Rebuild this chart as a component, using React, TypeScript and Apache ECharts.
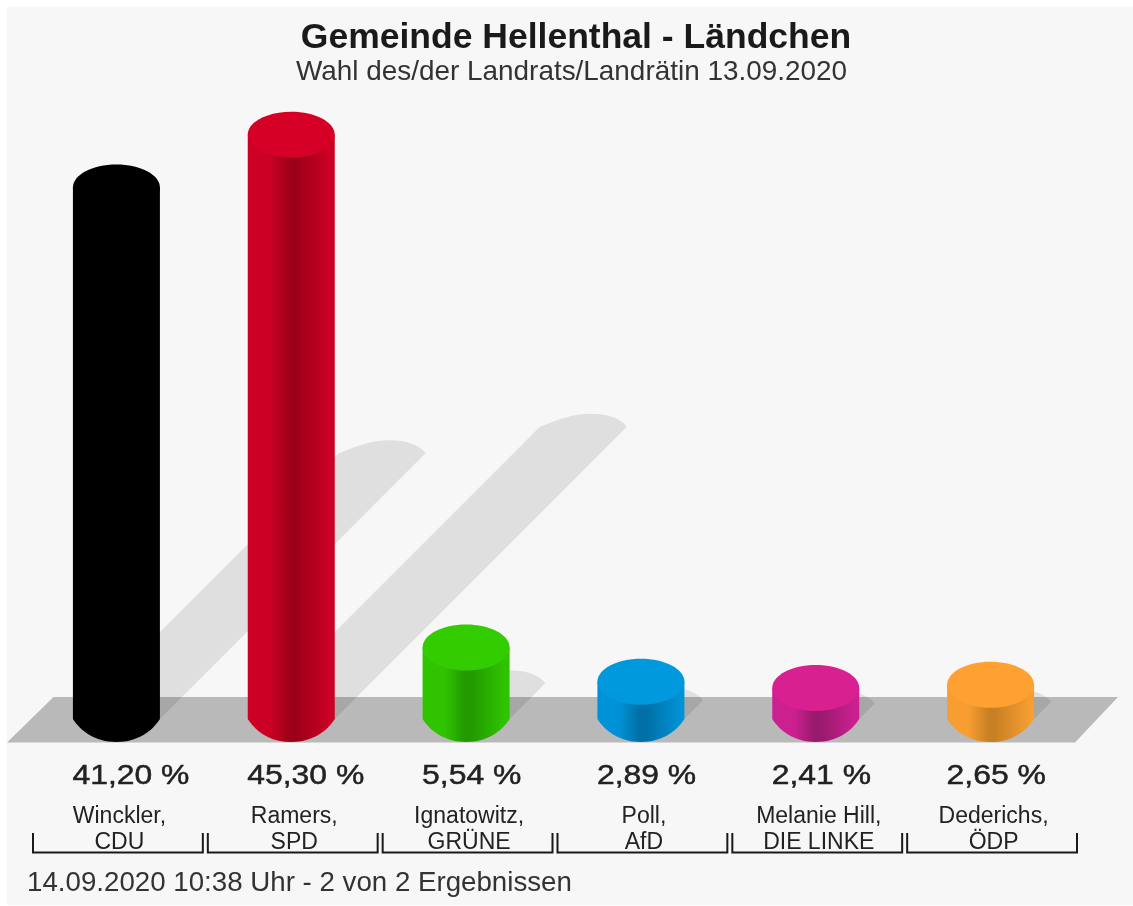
import React, { useEffect, useRef } from "react";
import * as echarts from "echarts";

const titleText = "Gemeinde Hellenthal - Ländchen";
const subtitleText = "Wahl des/der Landrats/Landrätin 13.09.2020";
const footerText = "14.09.2020 10:38 Uhr - 2 von 2 Ergebnissen";

const candidates = ["Winckler,", "Ramers,", "Ignatowitz,", "Poll,", "Melanie Hill,", "Dederichs,"];
const parties = ["CDU", "SPD", "GRÜNE", "AfD", "DIE LINKE", "ÖDP"];
const shares = [41.2, 45.3, 5.54, 2.89, 2.41, 2.65];

const topColors = ["#000000", "#d60027", "#33cc00", "#0099dd", "#d92090", "#ffa033"];
const sideEdge = ["#000000", "#cc0025", "#30c400", "#0092d6", "#cc2090", "#f79d32"];
const sideDark = ["#000000", "#9c0018", "#229a00", "#0070a6", "#981a6e", "#c88024"];

const FONT = "'Liberation Sans', Arial, sans-serif";
const RX = 43.5;
const RY = 23;

const categoryLabels = candidates.map((c, i) => c + "\n" + parties[i]);
const formatShare = (v: number) => v.toFixed(2).replace(".", ",") + " %";

function shadowItem(_: any, api: any) {
  const i = api.value(0);
  const [cx, base] = api.coord([i, 0]);
  const [, top] = api.coord([i, api.value(1)]);
  const d = (base - top) * 0.5;
  const l = cx - RX + d;
  const y = base - d;
  const p =
    `M${cx - RX} ${base} L${l} ${y} ` +
    `C${l + 18} ${y - 7} ${l + 32} ${y - 13} ${l + 50} ${y - 13} ` +
    `C${l + 68} ${y - 13} ${l + 80} ${y - 9} ${l + 87} ${y} ` +
    `L${cx + RX} ${base} Z`;
  return { type: "path", shape: { pathData: p }, style: { fill: "rgba(0,0,0,0.095)" } };
}

function columnItem(_: any, api: any) {
  const i = api.value(0);
  const [cx, base] = api.coord([i, 0]);
  const [, top] = api.coord([i, api.value(1)]);
  const band = api.size([1, 0])[0];
  const bl = cx - band / 2 + 4;
  const br = cx + band / 2 - 1;
  const p =
    `M${cx - RX} ${top} L${cx - RX} ${base} ` +
    `C${cx - RX * 0.82} ${base + RY * 0.52} ${cx - RX * 0.5} ${base + RY} ${cx} ${base + RY} ` +
    `C${cx + RX * 0.5} ${base + RY} ${cx + RX * 0.82} ${base + RY * 0.52} ${cx + RX} ${base} ` +
    `L${cx + RX} ${top} Z`;
  const fill = new echarts.graphic.LinearGradient(0, 0, 1, 0, [
    { offset: 0, color: sideEdge[i] },
    { offset: 0.25, color: sideEdge[i] },
    { offset: 0.48, color: sideDark[i] },
    { offset: 0.56, color: sideDark[i] },
    { offset: 0.95, color: sideEdge[i] },
    { offset: 1, color: sideEdge[i] },
  ]);
  return {
    type: "group",
    children: [
      { type: "path", shape: { pathData: p }, style: { fill } },
      { type: "ellipse", shape: { cx, cy: top, rx: RX, ry: RY }, style: { fill: topColors[i] } },
      {
        type: "text",
        x: cx - 44,
        y: 774,
        scaleX: 1.139,
        style: {
          text: formatShare(api.value(1)),
          fontFamily: FONT,
          fontSize: 28,
          fill: "#222222",
          stroke: "#222222",
          lineWidth: 0.5,
          align: "left",
          verticalAlign: "middle",
        },
      },
      {
        type: "polyline",
        shape: { points: [[bl, 833], [bl, 852.5], [br, 852.5], [br, 833]] },
        style: { stroke: "#1a1a1a", lineWidth: 2, fill: "none" },
      },
    ],
  };
}

export default function App() {
  const ref = useRef<HTMLDivElement>(null);
  useEffect(() => {
    const chart = echarts.init(ref.current!, null, { renderer: "svg" });
    const data = shares.map((v, i) => [i, v]);
    chart.setOption({
      animation: false,
      backgroundColor: "#ffffff",
      title: [
        {
          left: 576,
          top: 18,
          padding: 0,
          textAlign: "center",
          text: titleText,
          textStyle: { fontFamily: FONT, fontSize: 35.5, fontWeight: "bold", color: "#1a1a1a" },
        },
        {
          left: 571.5,
          top: 56,
          padding: 0,
          textAlign: "center",
          text: subtitleText,
          textStyle: { fontFamily: FONT, fontSize: 27.9, fontWeight: "normal", color: "#333333" },
        },
      ],
      grid: { left: 29, top: 74, width: 1049, height: 645 },
      xAxis: {
        type: "category",
        data: categoryLabels,
        z: 5,
        axisLine: { show: false },
        axisTick: { show: false },
        axisLabel: {
          interval: 0,
          margin: 83,
          fontFamily: FONT,
          fontSize: 23,
          lineHeight: 26,
          color: "#222222",
          padding: [0, 0, 0, 6],
        },
      },
      yAxis: { type: "value", min: 0, max: 50, show: false },
      graphic: [
        { type: "rect", z: -10, shape: { x: 7, y: 7, width: 1126, height: 898 }, style: { fill: "#f7f7f7" } },
        {
          type: "polygon",
          z: -9,
          shape: { points: [[7, 742.5], [53.5, 697], [1118, 697], [1075, 742.5]] },
          style: { fill: "#b9b9b9" },
        },
        {
          type: "text",
          z: 5,
          x: 27,
          y: 881,
          style: {
            text: footerText,
            fontFamily: FONT,
            fontSize: 27.7,
            fill: "#333333",
            align: "left",
            verticalAlign: "middle",
          },
        },
      ],
      series: [
        { type: "custom", name: "shadow", z: 1, data, encode: { x: 0, y: 1 }, renderItem: shadowItem },
        { type: "custom", name: "Stimmenanteil", z: 2, data, encode: { x: 0, y: 1 }, renderItem: columnItem },
      ],
    });
    return () => chart.dispose();
  }, []);
  return (
    <div
      ref={ref}
      style={{ position: "absolute", left: 0, top: 0, width: 1133, height: 906, filter: "blur(0.5px)" }}
    />
  );
}
